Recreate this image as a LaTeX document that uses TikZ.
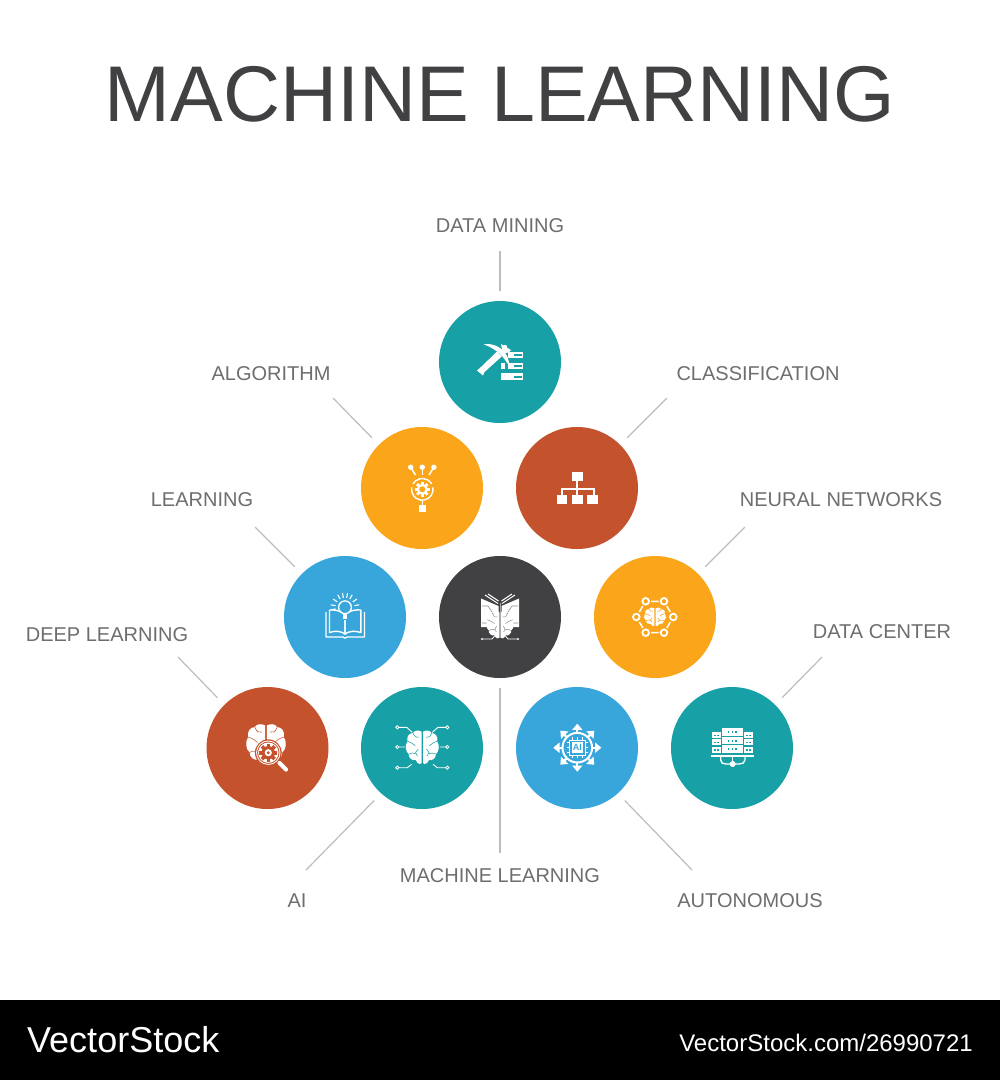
\documentclass[tikz,border=0pt]{standalone}
\usepackage{fontspec}
\setmainfont{Liberation Sans}
\definecolor{teal}{HTML}{17A0A6}
\definecolor{amber}{HTML}{FAA51A}
\definecolor{rust}{HTML}{C4532D}
\definecolor{sky}{HTML}{38A6DA}
\definecolor{ink}{HTML}{414042}
\definecolor{lbl}{HTML}{6D6E70}
\definecolor{leader}{HTML}{BDBDBD}
\tikzset{
  disc/.style={circle,minimum size=122pt,inner sep=0pt,outer sep=0pt,draw=none,fill=#1},
  lab/.style={text=lbl,font=\fontsize{20pt}{22pt}\selectfont,inner sep=0pt},
  leadline/.style={draw=leader,line width=1.2pt,shorten >=10pt},
}
% half of a brain: y down, half width 1
\newcommand\halfbrain{%
  (.05,-.92) .. controls (.25,-1.02) and (.48,-1) .. (.58,-.84)
  .. controls (.82,-.84) and (1,-.62) .. (.93,-.36)
  .. controls (1.1,-.12) and (1.05,.24) .. (.85,.38)
  .. controls (.86,.62) and (.62,.78) .. (.42,.72)
  .. controls (.32,.95) and (.12,1) .. (.05,.9) -- cycle}
% [yscale] cx cy halfwidth bg
\newcommand\brainglyph[5][1.08]{%
  \begin{scope}[shift={(#2,#3)},xscale=#4,yscale=#1*#4]
    \fill[white] \halfbrain;
    \begin{scope}[xscale=-1]\fill[white] \halfbrain;\end{scope}
    \foreach \sx in {1,-1}{
      \begin{scope}[xscale=\sx]
        \draw[#5,line width=.55pt,line cap=round] (.58,-.84) .. controls (.5,-.6) and (.35,-.55) .. (.22,-.6);
        \draw[#5,line width=.55pt,line cap=round] (.93,-.36) .. controls (.7,-.3) and (.55,-.2) .. (.45,-.1);
        \draw[#5,line width=.55pt,line cap=round] (.85,.38) .. controls (.68,.3) and (.55,.3) .. (.42,.36);
        \draw[#5,line width=.55pt,line cap=round] (.26,.1) -- (.42,.28) -- (.3,.5);
      \end{scope}}
  \end{scope}}
% cx cy R colour
\newcommand\gearglyph[4]{%
  \begin{scope}[shift={(#1,#2)}]
    \fill[#4] (0,0) circle (.74*#3);
    \foreach \a in {0,45,...,315}{
      \begin{scope}[rotate=\a]\fill[#4] (-.2*#3,-#3) rectangle (.2*#3,0);\end{scope}}
  \end{scope}}
\begin{document}
\begin{tikzpicture}[x=1pt,y=-1pt]
\useasboundingbox (0,0) rectangle (1000,1080);
\fill[white] (0,0) rectangle (1000,1000);
\fill[black] (0,1000) rectangle (1000,1080);
\node[text=ink,font=\fontsize{79pt}{90pt}\selectfont,inner sep=0pt] (title) at (500,94.5) {MACHINE LEARNING};

% discs
\node[disc=teal]  (mining) at (500,362) {};
\node[disc=amber] (algo)   at (422,488) {};
\node[disc=rust]  (class)  at (577,488) {};
\node[disc=sky]   (learn)  at (345,617) {};
\node[disc=ink]   (ml)     at (500,617) {};
\node[disc=amber] (neural) at (655,617) {};
\node[disc=rust]  (deep)   at (267.5,748) {};
\node[disc=teal]  (ai)     at (422,748) {};
\node[disc=sky]   (auto)   at (577,748) {};
\node[disc=teal]  (center) at (732,748) {};

% labels
\node[lab] (tmining) at (500,226) {DATA MINING};
\node[lab] (talgo)   at (271,374) {ALGORITHM};
\node[lab] (tclass)  at (758,374) {CLASSIFICATION};
\node[lab] (tlearn)  at (202,500) {LEARNING};
\node[lab] (tneural) at (841,500) {NEURAL NETWORKS};
\node[lab] (tdeep)   at (107,635) {DEEP LEARNING};
\node[lab] (tcenter) at (882,632) {DATA CENTER};
\node[lab] (tai)     at (297,901) {AI};
\node[lab] (tml)     at (500,876) {MACHINE LEARNING};
\node[lab] (tauto)   at (750,901) {AUTONOMOUS};

% free ends of the leaders
\coordinate (emining) at (500,251);
\coordinate (ealgo)   at (333,398);
\coordinate (eclass)  at (667,398);
\coordinate (elearn)  at (255,527);
\coordinate (eneural) at (745,527);
\coordinate (edeep)   at (178,657);
\coordinate (ecenter) at (822,657);
\coordinate (eai)     at (306,870);
\coordinate (eml)     at (500,853);
\coordinate (eauto)   at (692,870);
\draw[leadline] (emining) -- (mining.north);
\draw[leadline] (ealgo) -- (algo.135);
\draw[leadline] (eclass) -- (class.45);
\draw[leadline] (elearn) -- (learn.135);
\draw[leadline] (eneural) -- (neural.45);
\draw[leadline] (edeep) -- (deep.135);
\draw[leadline] (ecenter) -- (center.45);
\draw[leadline] (eai) -- (ai.228);
\draw[leadline] (eml) -- (ml.south);
\draw[leadline] (eauto) -- (auto.-48);

% --- data mining icon
\fill[white] (508,352) rectangle (523,358);
\fill[white] (508,363) rectangle (523,369);
\fill[white] (501,363) rectangle (505,369);
\fill[white] (501,373) rectangle (523,380);
\foreach \yy in {354,365,375.5}{\fill[teal] (513.5,\yy) rectangle (521.5,\yy+2.2);}
\fill[white] (483.7,344.3) .. controls (493,342.5) and (509,348) .. (509.5,367)
  .. controls (505,358) and (497,349) .. (483.7,344.3) -- cycle;
\fill[white] (501,344) -- (511,350) -- (509,352) -- (503,354) -- cycle;
\fill[white] (481,367) -- (497,351.5) -- (501.7,356.5) -- (484.5,372) -- (483,375.5) -- (477,370.5) -- cycle;
\fill[white] (505,347) circle (2.2);

% --- algorithm icon
\foreach \xx in {410.7,422.3,433.9}{\fill[white] (\xx,467.2) circle (2.7);}
\draw[white,line width=1.5pt] (410.7,467.2) -- (415.5,475);
\draw[white,line width=1.5pt] (422.3,467.2) -- (422.3,475);
\draw[white,line width=1.5pt] (433.9,467.2) -- (429,475);
\draw[white,line width=1.4pt] (422.3,489.3) ++(-150:10.8) arc (-150:-30:10.8);
\draw[white,line width=1.4pt] (422.3,489.3) ++(-10:10.8) arc (-10:190:10.8);
\gearglyph{422.3}{489.3}{7.4}{white}
\fill[amber] (422.3,489.3) circle (3);
\draw[white,line width=1.4pt] (422.3,500) -- (422.3,506);
\fill[white] (419,505) rectangle (426,512);

% --- classification icon
\fill[white] (572,472.3) rectangle (582.7,481);
\draw[white,line width=2pt] (577.3,481) -- (577.3,495);
\draw[white,line width=2pt] (561.5,495) -- (561.5,488.5) -- (593.5,488.5) -- (593.5,495);
\foreach \xx in {556.7,572,587.3}{\fill[white] (\xx,495.3) rectangle (\xx+10.7,504);}

% --- learning icon
\draw[white,line width=1.4pt,line join=round] (326,612) -- (326,637) -- (343,637) .. controls (344,638.5) and (346,638.5) .. (347,637) -- (364.5,637) -- (364.5,612);
\draw[white,line width=1.4pt,line join=round] (329.5,610) .. controls (334,609.5) and (338,610.5) .. (341,612) (345,620) -- (345,634) .. controls (341,631) and (335,630.5) .. (329.5,632.5) -- (329.5,610);
\draw[white,line width=1.4pt,line join=round] (360.8,610) .. controls (356,609.5) and (352,610.5) .. (349,612) (345,620) -- (345,634) .. controls (349,631) and (355,630.5) .. (360.8,632.5) -- (360.8,610);
\draw[white,line width=1.3pt] (345,607.3) circle (6.4);
\fill[white] (342.6,613.5) rectangle (347.4,619);
\foreach \a in {10,35,60,80,100,120,145,170,190}{
  \draw[white,line width=1.1pt] (345,607.3) ++(-\a:9.5) -- ++(-\a:5);}

% --- machine learning icon
\fill[white] (481,598.5) -- (498.5,606) -- (498.5,627) -- (481,627) -- cycle;
\fill[white] (519,598.5) -- (501.5,606) -- (501.5,627) -- (519,627) -- cycle;
\draw[white,line width=1pt] (485,595) -- (498,603.5) (488,594) -- (498.5,601);
\draw[white,line width=1pt] (515,595) -- (502,603.5) (512,594) -- (501.5,601);
\draw[ink!60,line width=.6pt] (482,606) -- (488,606) -- (492,612) (482,623) -- (487,623)
   (518,606) -- (512,606) -- (508,612) (518,623) -- (513,623);
\brainglyph{500}{625}{13.2}{ink}
\brainglyph{500}{625}{12.4}{ink!55}
\draw[white,line width=.8pt] (483,639) -- (492,639) -- (495,635.5) (517,639) -- (508,639) -- (505,635.5);
\fill[white] (482,639) circle (1.2) (518,639) circle (1.2);
\draw[ink!45,line width=.9pt] (500,603) -- (500,638);

% --- neural networks icon
\foreach \px/\py in {645.7/601.3,664/601.3,636.3/617,673.3/617,645.7/632.7,664/632.7}{
  \draw[white,line width=1.8pt] (\px,\py) circle (3.3);}
\draw[white,line width=1.5pt] (651,601.3) -- (658.7,601.3) (651,632.7) -- (658.7,632.7)
  (639.3,612) -- (642.8,606) (639.3,622) -- (642.8,628)
  (670.3,612) -- (666.8,606) (670.3,622) -- (666.8,628);
\brainglyph[.9]{655}{617}{10.7}{amber}

% --- data center icon
\foreach \yy in {728.3,736.7,745}{
  \fill[white] (722,\yy) rectangle (742.7,\yy+7.7);
  \foreach \xx in {728.5,732.4,736.3}{\fill[teal] (\xx-.9,\yy+3) rectangle (\xx+.9,\yy+4.8);}
}
\foreach \yy in {732.3,739.3,746.7}{
  \fill[white] (712.3,\yy) rectangle (721,\yy+6);
  \fill[white] (744,\yy) rectangle (752.7,\yy+6);
  \foreach \xx in {715,718}{\fill[teal] (\xx-.7,\yy+2.2) rectangle (\xx+.7,\yy+3.8);}
  \foreach \xx in {747,750}{\fill[teal] (\xx-.7,\yy+2.2) rectangle (\xx+.7,\yy+3.8);}
}
\fill[white] (711,754.7) rectangle (754,756.9);
\draw[white,line width=1.3pt] (720.7,756.5) -- (720.7,760) .. controls (720.7,763) and (723,764) .. (726,764) -- (739,764)
  .. controls (742,764) and (745,763) .. (745,760) -- (745,756.5);
\fill[white] (732.7,764) circle (3);
\draw[white,line width=1.3pt] (732.7,756.5) -- (732.7,764);

% --- deep learning icon
\brainglyph{266}{744.5}{19.2}{rust}
\fill[rust] (268.3,752.7) circle (13.4);
\fill[white] (268.3,752.7) circle (12.2);
\fill[rust] (268.3,752.7) circle (11.2);
\fill[white] (268.3,752.7) circle (10.2);
\gearglyph{268.3}{752.7}{9}{rust}
\fill[white] (268.3,752.7) circle (3.6);
\fill[rust] (268.3,752.7) circle (1.6);
\draw[white,line width=4.2pt,line cap=round] (279.5,763) -- (286,769.5);

% --- AI brain icon
\brainglyph{422.3}{747.5}{16}{teal}
\draw[white,line width=.9pt] (399,727.3) -- (406.7,727.3) -- (412.3,732.3)
  (399,747) -- (405,747) (399,767.7) -- (407.3,767.7) -- (411.7,764.3)
  (445.6,727.3) -- (438,727.3) -- (432.3,732.3)
  (445.6,747) -- (439.6,747) (445.6,767.7) -- (437.3,767.7) -- (433,764.3);
\foreach \px/\py in {397.3/727.3,397.3/747,397.3/767.7,447.3/727.3,447.3/747,447.3/767.7}{
  \draw[white,line width=.8pt] (\px,\py) circle (1.6);}

% --- autonomous icon
\foreach \a in {0,45,...,315}{
  \begin{scope}[shift={(577.3,747.7)},rotate=\a]
    \draw[white,line width=2.2pt] (15,0) -- (20,0);
    \fill[white] (24,0) -- (17.8,-5.2) -- (17.8,5.2) -- cycle;
  \end{scope}}
\draw[white,line width=2pt] (577.3,747.7) circle (14.8);
\fill[white] (571.8,742.2) rectangle (582.8,753.2);
\draw[white,line width=.8pt] (569.5,739.9) rectangle (585.1,755.5);
\foreach \d in {-5,0,5}{
  \draw[white,line width=.8pt] (577.3+\d,737) -- (577.3+\d,739.9) (577.3+\d,755.5) -- (577.3+\d,758.4)
    (566.6,747.7+\d) -- (569.5,747.7+\d) (585.1,747.7+\d) -- (588,747.7+\d);}
\node[text=sky,inner sep=0pt,font=\fontsize{9pt}{9pt}\selectfont\bfseries] (aitxt) at (577.3,747.7) {AI};

% --- footer
\node[text=white,anchor=base west,inner sep=0pt,font=\fontsize{36pt}{40pt}\selectfont] (vs) at (27,1052) {VectorStock};
\node[text=white,anchor=base east,inner sep=0pt,font=\fontsize{24pt}{28pt}\selectfont] (vsurl) at (973,1051) {VectorStock.com/26990721};
\end{tikzpicture}
\end{document}
